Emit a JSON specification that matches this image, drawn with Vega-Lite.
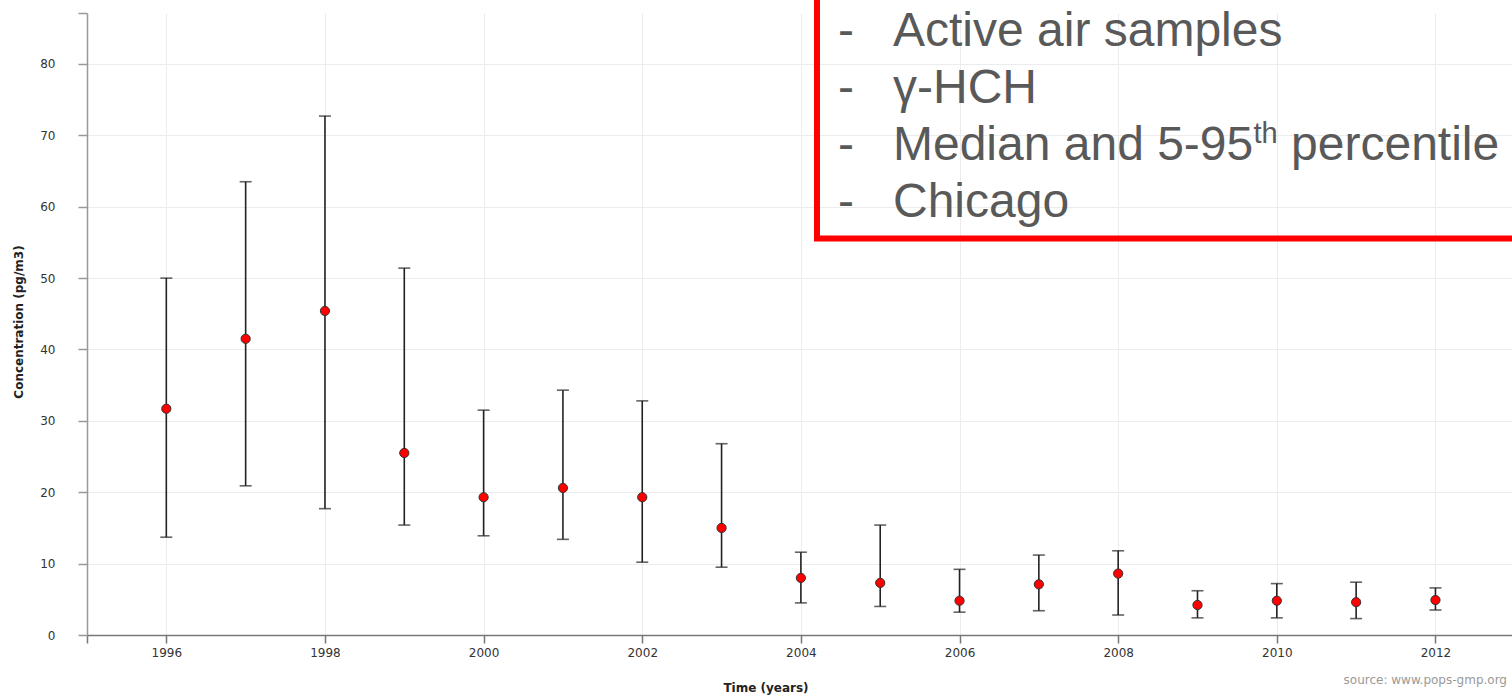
{
  "$schema": "https://vega.github.io/schema/vega-lite/v6.json",
  "width": 1425,
  "height": 622,
  "autosize": {"type": "none"},
  "padding": {"left": 87, "top": 13, "right": 0, "bottom": 60},
  "background": "white",
  "config": {"view": {"stroke": null}, "font": "DejaVu Sans"},
  "data": {
    "values": [
      {"year": 1996, "median": 31.7, "p5": 13.7, "p95": 50.0},
      {"year": 1997, "median": 41.5, "p5": 20.9, "p95": 63.5},
      {"year": 1998, "median": 45.4, "p5": 17.7, "p95": 72.7},
      {"year": 1999, "median": 25.5, "p5": 15.4, "p95": 51.4},
      {"year": 2000, "median": 19.3, "p5": 13.9, "p95": 31.5},
      {"year": 2001, "median": 20.6, "p5": 13.4, "p95": 34.3},
      {"year": 2002, "median": 19.3, "p5": 10.2, "p95": 32.8},
      {"year": 2003, "median": 15.0, "p5": 9.5, "p95": 26.8},
      {"year": 2004, "median": 8.0, "p5": 4.5, "p95": 11.6},
      {"year": 2005, "median": 7.3, "p5": 4.0, "p95": 15.4},
      {"year": 2006, "median": 4.8, "p5": 3.2, "p95": 9.2},
      {"year": 2007, "median": 7.1, "p5": 3.4, "p95": 11.2},
      {"year": 2008, "median": 8.6, "p5": 2.8, "p95": 11.8},
      {"year": 2009, "median": 4.2, "p5": 2.4, "p95": 6.2},
      {"year": 2010, "median": 4.8, "p5": 2.4, "p95": 7.2},
      {"year": 2011, "median": 4.6, "p5": 2.3, "p95": 7.4},
      {"year": 2012, "median": 4.9, "p5": 3.5, "p95": 6.6}
    ]
  },
  "layer": [
    {
      "mark": {"type": "rule", "color": "#222", "strokeWidth": 1.6},
      "encoding": {
        "x": {
          "field": "year", "type": "quantitative", "title": "Time (years)",
          "scale": {"domain": [1995, 2012.965], "nice": false, "zero": false},
          "axis": {
            "values": [1995, 1996, 1998, 2000, 2002, 2004, 2006, 2008, 2010, 2012],
            "format": "d",
            "labelExpr": "datum.value < 1995.5 ? '' : datum.label",
            "labelFont": "DejaVu Sans", "labelFontSize": 12, "labelColor": "#333",
            "labelPadding": 4, "tickSize": 8, "tickColor": "#777", "tickWidth": 1.5,
            "domainColor": "#777", "domainWidth": 1.5,
            "grid": true, "gridColor": "#ececec", "gridWidth": 1,
            "titleFont": "DejaVu Sans", "titleFontSize": 12, "titleFontWeight": "bold", "titleColor": "#222",
            "titleX": 678.5, "titleY": 52, "titleBaseline": "middle", "titleAnchor": null
          }
        },
        "y": {
          "field": "p5", "type": "quantitative", "title": "Concentration (pg/m3)",
          "scale": {"domain": [0, 87.14], "nice": false},
          "axis": {
            "values": [0, 10, 20, 30, 40, 50, 60, 70, 80, 87.14],
            "labelExpr": "datum.value > 85 ? '' : datum.label",
            "labelFont": "DejaVu Sans", "labelFontSize": 12, "labelColor": "#333",
            "labelPadding": 23, "tickSize": 9, "tickColor": "#999", "tickWidth": 1.5,
            "domainColor": "#999", "domainWidth": 1.5,
            "grid": true,
            "gridColor": {"condition": {"test": "datum.value > 85", "value": "transparent"}, "value": "#ececec"},
            "gridWidth": 1,
            "titleFont": "DejaVu Sans", "titleFontSize": 12, "titleFontWeight": "bold", "titleColor": "#222",
            "titleX": -69, "titleY": 308.5, "titleAngle": -90, "titleBaseline": "middle", "titleAnchor": null
          }
        },
        "y2": {"field": "p95"}
      }
    },
    {
      "mark": {"type": "tick", "orient": "horizontal", "size": 12, "thickness": 1.6, "color": "#222"},
      "encoding": {
        "x": {"field": "year", "type": "quantitative", "title": "Time (years)"},
        "y": {"field": "p5", "type": "quantitative", "title": "Concentration (pg/m3)"}
      }
    },
    {
      "mark": {"type": "tick", "orient": "horizontal", "size": 12, "thickness": 1.6, "color": "#222"},
      "encoding": {
        "x": {"field": "year", "type": "quantitative", "title": "Time (years)"},
        "y": {"field": "p95", "type": "quantitative", "title": "Concentration (pg/m3)"}
      }
    },
    {
      "mark": {"type": "point", "shape": "circle", "filled": true, "fill": "#ff0000", "stroke": "#333", "strokeWidth": 1, "size": 85, "opacity": 1},
      "encoding": {
        "x": {"field": "year", "type": "quantitative", "title": "Time (years)"},
        "y": {"field": "median", "type": "quantitative", "title": "Concentration (pg/m3)"}
      }
    },
    {
      "data": {"values": [{"note": "box"}]},
      "mark": {"type": "rect", "fill": null, "fillOpacity": 0, "stroke": "#ff0000", "strokeWidth": 6},
      "encoding": {
        "x": {"datum": 2004.203, "type": "quantitative", "title": "Time (years)"},
        "x2": {"datum": 2014.5},
        "y": {"datum": 55.55, "type": "quantitative", "title": "Concentration (pg/m3)"},
        "y2": {"datum": 100}
      }
    },
    {
      "data": {"values": [{"note": "dashes"}]},
      "mark": {"type": "text", "text": ["-", "-", "-", "-"], "font": "Liberation Sans", "fontSize": 48, "lineHeight": 57, "align": "left", "baseline": "alphabetic", "color": "#595959"},
      "encoding": {
        "x": {"datum": 2004.468, "type": "quantitative", "title": "Time (years)"},
        "y": {"datum": 82.52, "type": "quantitative", "title": "Concentration (pg/m3)"}
      }
    },
    {
      "data": {"values": [{"note": "lines"}]},
      "mark": {"type": "text", "text": ["Active air samples", "γ-HCH"], "font": "Liberation Sans", "fontSize": 48, "lineHeight": 57, "align": "left", "baseline": "alphabetic", "color": "#595959"},
      "encoding": {
        "x": {"datum": 2005.161, "type": "quantitative", "title": "Time (years)"},
        "y": {"datum": 82.52, "type": "quantitative", "title": "Concentration (pg/m3)"}
      }
    },
    {
      "data": {"values": [{"note": "line3a"}]},
      "mark": {"type": "text", "text": "Median and 5-95", "font": "Liberation Sans", "fontSize": 48, "align": "left", "baseline": "alphabetic", "color": "#595959"},
      "encoding": {
        "x": {"datum": 2005.161, "type": "quantitative", "title": "Time (years)"},
        "y": {"datum": 66.55, "type": "quantitative", "title": "Concentration (pg/m3)"}
      }
    },
    {
      "data": {"values": [{"note": "line3b"}]},
      "mark": {"type": "text", "text": "th", "font": "Liberation Sans", "fontSize": 29, "align": "left", "baseline": "alphabetic", "color": "#595959"},
      "encoding": {
        "x": {"datum": 2009.705, "type": "quantitative", "title": "Time (years)"},
        "y": {"datum": 68.93, "type": "quantitative", "title": "Concentration (pg/m3)"}
      }
    },
    {
      "data": {"values": [{"note": "line3c"}]},
      "mark": {"type": "text", "text": "percentile", "font": "Liberation Sans", "fontSize": 48, "align": "left", "baseline": "alphabetic", "color": "#595959"},
      "encoding": {
        "x": {"datum": 2010.18, "type": "quantitative", "title": "Time (years)"},
        "y": {"datum": 66.55, "type": "quantitative", "title": "Concentration (pg/m3)"}
      }
    },
    {
      "data": {"values": [{"note": "line4"}]},
      "mark": {"type": "text", "text": "Chicago", "font": "Liberation Sans", "fontSize": 48, "align": "left", "baseline": "alphabetic", "color": "#595959"},
      "encoding": {
        "x": {"datum": 2005.161, "type": "quantitative", "title": "Time (years)"},
        "y": {"datum": 58.56, "type": "quantitative", "title": "Concentration (pg/m3)"}
      }
    },
    {
      "data": {"values": [{"note": "source"}]},
      "mark": {"type": "text", "text": "source: www.pops-gmp.org", "font": "DejaVu Sans", "fontSize": 12, "align": "right", "baseline": "middle", "color": "#999"},
      "encoding": {
        "x": {"datum": 2012.902, "type": "quantitative", "title": "Time (years)"},
        "y": {"datum": -6.3, "type": "quantitative", "title": "Concentration (pg/m3)"}
      }
    }
  ]
}
